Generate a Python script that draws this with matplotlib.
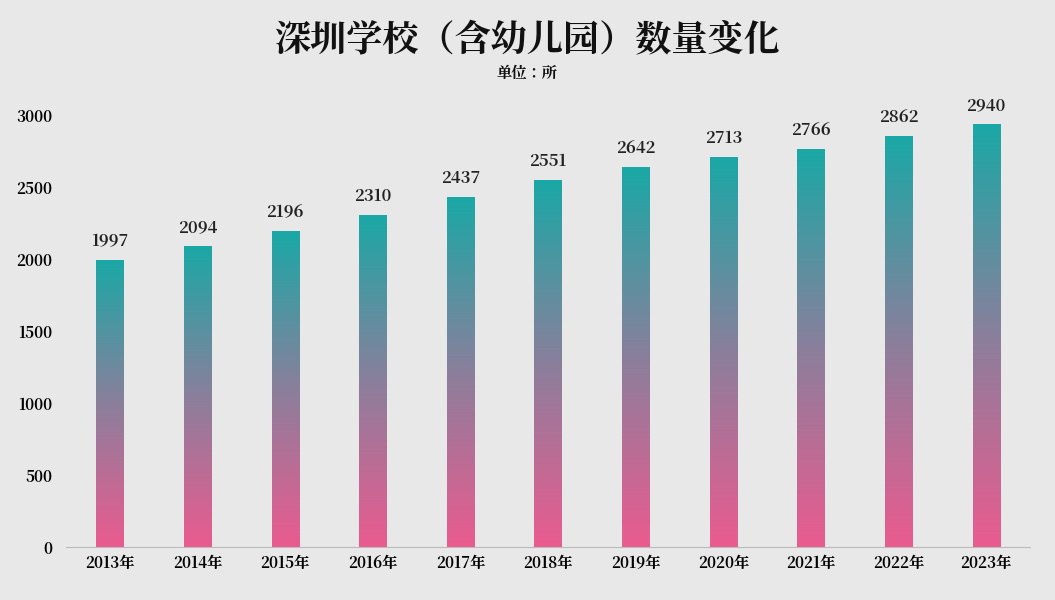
import matplotlib.pyplot as plt
import numpy as np
from matplotlib import font_manager as fm
from matplotlib.colors import LinearSegmentedColormap
from matplotlib.patches import Rectangle

cjk = [f.name for f in fm.fontManager.ttflist if 'CJK' in f.name]
plt.rcParams['font.family'] = 'sans-serif'
plt.rcParams['font.sans-serif'] = ['Noto Sans CJK SC'] + cjk + ['DejaVu Sans']

years = ['2013年', '2014年', '2015年', '2016年', '2017年', '2018年',
         '2019年', '2020年', '2021年', '2022年', '2023年']
counts = [1997, 2094, 2196, 2310, 2437, 2551, 2642, 2713, 2766, 2862, 2940]

bg = '#e8e8e8'
cmap = LinearSegmentedColormap.from_list('bar', ['#ea5b8f', '#8a7f9c', '#1aa8a6'])

fig = plt.figure(figsize=(10.55, 6), dpi=100, facecolor=bg)
ax = fig.add_axes([0.0626, 0.0883, 0.9137, 0.7667], facecolor=bg)

width = 0.31
grad = np.linspace(0, 1, 256).reshape(-1, 1)
for i, v in enumerate(counts):
    rect = Rectangle((i - width / 2, 0), width, v, facecolor='none', edgecolor='none')
    ax.add_patch(rect)
    im = ax.imshow(grad, cmap=cmap, origin='lower', aspect='auto',
                   extent=(i - width / 2, i + width / 2, 0, v), zorder=2)
    im.set_clip_path(rect)
    ax.text(i, v + 70, str(v), ha='center', va='bottom', fontsize=12,
            fontweight='bold', color='#222222')

ax.set_xlim(-0.5, len(years) - 0.5)
ax.set_ylim(0, 3200)
ax.set_xticks(range(len(years)))
ax.set_xticklabels(years, fontsize=11, fontweight='bold')
ax.set_yticks(range(0, 3001, 500))
ax.set_yticklabels([str(t) for t in range(0, 3001, 500)], fontsize=11, fontweight='bold')
ax.tick_params(axis='x', length=0, pad=6)
ax.tick_params(axis='y', length=0, pad=10)
for s in ['top', 'right', 'left']:
    ax.spines[s].set_visible(False)
ax.spines['bottom'].set_color('#bbbbbb')

fig.text(0.5, 0.933, '深圳学校（含幼儿园）数量变化', ha='center', va='center',
         fontsize=26, fontweight='bold', color='#111111')
fig.text(0.5, 0.878, '单位：所', ha='center', va='center',
         fontsize=11, fontweight='bold', color='#111111')

fig.savefig('out.png', dpi=100, facecolor=bg)
